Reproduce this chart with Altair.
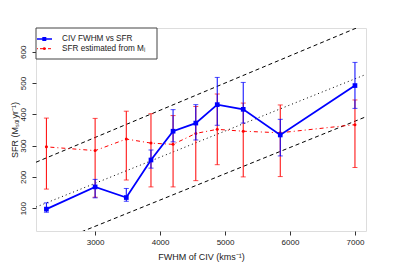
import altair as alt
import pandas as pd
import numpy as np

# ---- data ----
fwhm = [2250, 3000, 3480, 3860, 4200, 4550, 4880, 5280, 5850, 7000]
sfr_civ = [97, 168, 134, 254, 346, 372, 431, 416, 334, 492]
sfr_civ_lo = [87, 133, 122, 228, 312, 318, 365, 372, 267, 419]
sfr_civ_hi = [117, 192, 163, 286, 415, 431, 518, 502, 384, 566]

sfr_mi = [296, 284, 321, 308, 304, 339, 352, 346, 341, 367]
sfr_mi_lo = [161, 135, 190, 168, 168, 188, 239, 200, 201, 230]
sfr_mi_hi = [388, 387, 410, 402, 396, 425, 465, 436, 430, 446]

# reference lines: intercept, slope, style
line_a = [-71, 65, -210]
line_b = [0.0835, 0.087, 0.084]
line_kind = ["dotted", "dashed", "dashed"]

x_ticks = [3000, 4000, 5000, 6000, 7000]
y_ticks = [100, 200, 300, 400, 500, 600]

X_DOM = [2090, 7170]
Y_DOM = [27, 676]

FONT = "Liberation Sans"
W, H = 330, 203

df = pd.DataFrame(dict(fwhm=fwhm, civ=sfr_civ, civ_lo=sfr_civ_lo, civ_hi=sfr_civ_hi,
                       mi=sfr_mi, mi_lo=sfr_mi_lo, mi_hi=sfr_mi_hi))

rows = []
for i, (a, b, k) in enumerate(zip(line_a, line_b, line_kind)):
    for xv in X_DOM:
        rows.append(dict(fwhm=xv, y=a + b * xv, id=i, kind=k))
lines_df = pd.DataFrame(rows)

xsc = alt.Scale(domain=X_DOM, nice=False, zero=False)
ysc = alt.Scale(domain=Y_DOM, nice=False, zero=False)

x_axis = alt.Axis(values=x_ticks, title="FWHM of CIV (kms⁻¹)", format="d",
                  labelFontSize=8, titleFontSize=9, titleFontWeight="normal",
                  labelFont=FONT, titleFont=FONT, tickSize=4, labelPadding=3,
                  titlePadding=6, domain=False, grid=False, tickColor="#333",
                  labelColor="#222", titleColor="#222")
y_axis = alt.Axis(values=y_ticks, title="SFR (Mₛₒₗyr⁻¹)", format="d",
                  labelFontSize=8, titleFontSize=9, titleFontWeight="normal",
                  labelFont=FONT, titleFont=FONT, tickSize=4, labelPadding=5,
                  labelAngle=270, labelAlign="center", labelBaseline="bottom",
                  titleAngle=270, titleAlign="center", titleBaseline="middle",
                  titleX=-22, titleY=H / 2, domain=False, grid=False,
                  tickColor="#333", labelColor="#222", titleColor="#222")

X = alt.X("fwhm:Q", scale=xsc, axis=x_axis)

def Yn(f):
    return alt.Y(f"{f}:Q", scale=ysc, axis=y_axis)

base = alt.Chart(df)

ref_dotted = alt.Chart(lines_df[lines_df.kind == "dotted"]).mark_line(
    color="black", strokeWidth=1, strokeDash=[1, 3], clip=True).encode(
    x=X, y=Yn("y"), detail="id:N")
ref_dashed = alt.Chart(lines_df[lines_df.kind == "dashed"]).mark_line(
    color="black", strokeWidth=1, strokeDash=[4, 3], clip=True).encode(
    x=X, y=Yn("y"), detail="id:N")

RED = "#ff0000"
BLUE = "#0000ff"

red_bars = base.mark_rule(color=RED, strokeWidth=1).encode(x=X, y=Yn("mi_lo"), y2="mi_hi:Q")
red_caps_lo = base.mark_tick(color=RED, orient="horizontal", size=5, thickness=1).encode(x=X, y=Yn("mi_lo"))
red_caps_hi = base.mark_tick(color=RED, orient="horizontal", size=5, thickness=1).encode(x=X, y=Yn("mi_hi"))
red_line = base.mark_line(color=RED, strokeWidth=1, strokeDash=[1, 3, 4, 3]).encode(x=X, y=Yn("mi"))
red_pts = base.mark_circle(color=RED, size=9, opacity=1).encode(x=X, y=Yn("mi"))

blue_bars = base.mark_rule(color=BLUE, strokeWidth=1).encode(x=X, y=Yn("civ_lo"), y2="civ_hi:Q")
blue_caps_lo = base.mark_tick(color=BLUE, orient="horizontal", size=5, thickness=1).encode(x=X, y=Yn("civ_lo"))
blue_caps_hi = base.mark_tick(color=BLUE, orient="horizontal", size=5, thickness=1).encode(x=X, y=Yn("civ_hi"))
blue_line = base.mark_line(color=BLUE, strokeWidth=1.8).encode(x=X, y=Yn("civ"))
blue_pts = base.mark_square(color=BLUE, size=22, opacity=1).encode(x=X, y=Yn("civ"))

# ---- manual legend (R style, top-left box) ----
one = pd.DataFrame({"k": [0]})
lg = alt.Chart(one)
leg_box = lg.mark_rect(fill="white", stroke="#444", strokeWidth=1).encode(
    x=alt.value(0), x2=alt.value(121), y=alt.value(0), y2=alt.value(31))
leg_l1 = lg.mark_rule(color=BLUE, strokeWidth=1.5).encode(
    x=alt.value(1), x2=alt.value(16), y=alt.value(11))
leg_p1 = lg.mark_square(color=BLUE, size=16, opacity=1).encode(
    x=alt.value(8.3), y=alt.value(11))
leg_l2 = lg.mark_rule(color=RED, strokeWidth=1, strokeDash=[1, 2, 3, 2]).encode(
    x=alt.value(1), x2=alt.value(16), y=alt.value(20.7))
leg_p2 = lg.mark_circle(color=RED, size=8, opacity=1).encode(
    x=alt.value(8.3), y=alt.value(20.7))
leg_t1 = lg.mark_text(text="CIV FWHM vs SFR", align="left", baseline="middle",
                      font=FONT, fontSize=8.2, color="#222").encode(
    x=alt.value(26), y=alt.value(11))
leg_t2 = lg.mark_text(text="SFR estimated from Mᵢ", align="left", baseline="middle",
                      font=FONT, fontSize=8.2, color="#222").encode(
    x=alt.value(26), y=alt.value(20.7))

chart = alt.layer(
    ref_dotted, ref_dashed,
    red_bars, red_caps_lo, red_caps_hi, red_line, red_pts,
    blue_bars, blue_caps_lo, blue_caps_hi, blue_line, blue_pts,
    leg_box, leg_l1, leg_p1, leg_l2, leg_p2, leg_t1, leg_t2,
).properties(
    width=W, height=H,
    autosize=alt.AutoSizeParams(type="none"),
    padding={"left": 28, "top": 20, "right": 12, "bottom": 34},
).configure_view(stroke="#555", strokeWidth=1).configure(background="white")

chart.save("out.html", embed_options={"renderer": "svg", "actions": False})
